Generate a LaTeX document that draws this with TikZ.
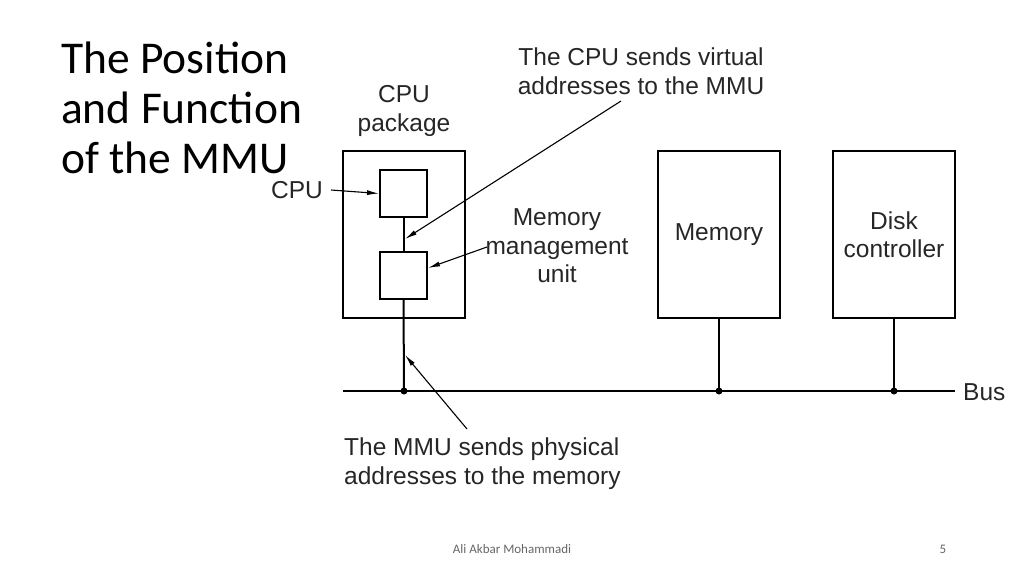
\documentclass[tikz,border=0pt]{standalone}
\usepackage{fontspec}
\setmainfont{Liberation Sans}
\newfontfamily\titlefont{Carlito}
\usetikzlibrary{arrows.meta}
\begin{document}
\begin{tikzpicture}[x=1pt,y=-1pt,
  box/.style={draw, line width=2pt, inner sep=0pt},
  wire/.style={line width=2pt},
  lbl/.style={inner sep=0pt, align=center, font=\fontsize{24.5}{28.5}\selectfont, text=black!85},
  ptr/.style={line width=1.1pt, -{Latex[length=12pt,width=5pt]}},
  dot/.style={circle, fill=black, inner sep=0pt, minimum size=7pt}]
\useasboundingbox (0,0) rectangle (1024,576);
% title
\node[anchor=north west, inner sep=0pt, align=left, font=\titlefont\fontsize{45.5}{50}\selectfont] (title) at (61,42) {The Position\\and Function\\of the MMU};
% boxes
\node[box, minimum width=122, minimum height=167] (pkg) at (404,234.5) {};
\node[box, minimum width=47, minimum height=47] (cpu) at (403.5,193.5) {};
\node[box, minimum width=47, minimum height=47] (mmu) at (403.5,275.5) {};
\node[box, minimum width=122, minimum height=167, lbl] (mem) at (719,234.5) {Memory};
\node[box, minimum width=122, minimum height=167, lbl] (disk) at (894,234.5) {Disk\\controller};
% bus
\coordinate (busL) at (343,391);
\coordinate (busR) at (955,391);
\draw[wire] (busL) -- (busR);
\node[lbl, anchor=west] (buslbl) at (963,392) {Bus};
\node[dot] (d1) at (404,391) {};
\node[dot] (d2) at (719,391) {};
\node[dot] (d3) at (894,391) {};
\draw[wire] (cpu.south) -- (mmu.north);
\draw[wire] (mmu.south) -- (d1.center);
\draw[wire] (mem.south) -- (d2.center);
\draw[wire] (disk.south) -- (d3.center);
% labels
\node[lbl] (pkglbl) at (404,111) {CPU\\package};
\node[lbl, anchor=east] (cpulbl) at (323,190) {CPU};
\coordinate (cpuA) at (331,190);
\draw[ptr] (cpuA) -- (cpu.west);
\node[lbl] (virt) at (641,71) {The CPU sends virtual\\addresses to the MMU};
\coordinate (vt) at (621,101);
\coordinate (vtip) at (405,239);
\draw[ptr] (vt) -- (vtip);
\node[lbl] (mmulbl) at (557,246) {Memory\\management\\unit};
\coordinate (mt) at (487,247);
\draw[ptr] (mt) -- (428,268);
\node[lbl, anchor=north west, align=left] (phys) at (344,438) {The MMU sends physical\\addresses to the memory};
\coordinate (pt) at (467,429);
\coordinate (ptip) at (405,355);
\draw[ptr] (pt) -- (ptip);
% footer
\node[inner sep=0pt, font=\titlefont\fontsize{13}{15}\selectfont, text=black!60] (foot) at (512,549) {Ali Akbar Mohammadi};
\node[inner sep=0pt, font=\titlefont\fontsize{13}{15}\selectfont, text=black!60] (page) at (943,549) {5};
\end{tikzpicture}
\end{document}
